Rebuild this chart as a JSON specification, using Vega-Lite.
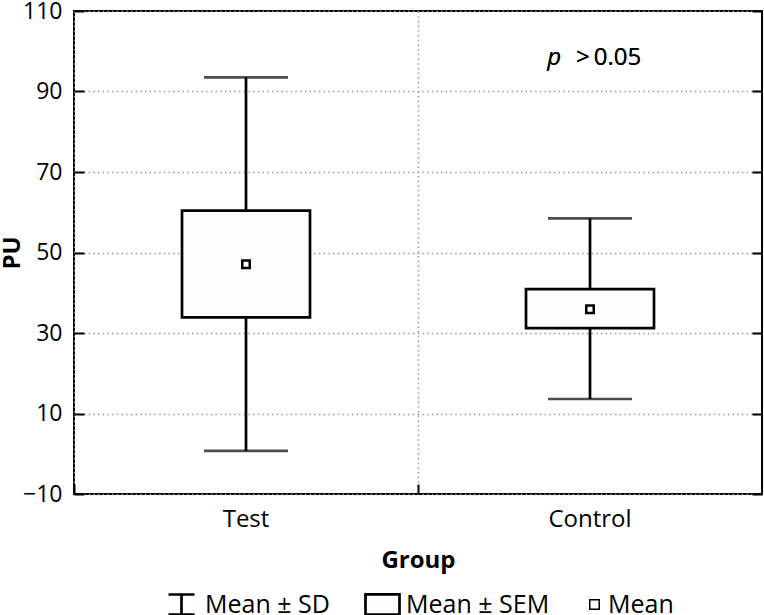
{
  "$schema": "https://vega.github.io/schema/vega-lite/v6.json",
  "width": 688,
  "height": 483,
  "autosize": {"type": "none"},
  "padding": {"left": 74, "top": 11, "right": 2, "bottom": 121},
  "config": {
    "font": "Open Sans",
    "view": {"stroke": "black", "strokeWidth": 2},
    "axis": {
      "domain": false,
      "tickColor": "black",
      "tickWidth": 2,
      "gridColor": "#999999",
      "gridDash": [1.5, 3.2],
      "gridWidth": 1.5,
      "labelFontSize": 23,
      "labelColor": "black",
      "titleFontSize": 24,
      "titleFontWeight": "bold",
      "titleColor": "black"
    },
    "legend": {"labelFontSize": 25, "labelColor": "black", "labelLimit": 300}
  },
  "data": {
    "values": [
      {"group": "Test", "sdLow": 0.7, "sdHigh": 93.5, "semLow": 33.9, "semHigh": 60.4, "mean": 47.1},
      {"group": "Control", "sdLow": 13.6, "sdHigh": 58.5, "semLow": 31.2, "semHigh": 40.9, "mean": 35.9}
    ]
  },
  "encoding": {
    "x": {
      "field": "group",
      "type": "nominal",
      "sort": ["Test", "Control"],
      "scale": {"paddingInner": 0, "paddingOuter": 0},
      "axis": {
        "title": "Group",
        "labelAngle": 0,
        "bandPosition": 0,
        "grid": true,
        "tickSize": -10,
        "labelPadding": 23,
        "titlePadding": 17,
        "labelFontSize": 24
      }
    }
  },
  "layer": [
    {
      "mark": {"type": "rule", "strokeWidth": 2.7},
      "encoding": {
        "y": {
          "field": "sdLow",
          "type": "quantitative",
          "scale": {"domain": [-10, 110], "nice": false, "zero": false},
          "axis": {
            "orient": "left",
            "values": [-10, 10, 30, 50, 70, 90, 110],
            "title": "PU",
            "grid": true,
            "tickSize": -10,
            "labelPadding": 22,
            "titlePadding": -2
          }
        },
        "y2": {"field": "sdHigh"},
        "stroke": {
          "datum": "Mean ± SD",
          "type": "nominal",
          "scale": {"range": ["black"]},
          "legend": {
            "title": null,
            "orient": "none",
            "legendX": 93,
            "legendY": 579,
            "symbolType": "M-1,-0.77H1M0,-0.77V0.77M-1,0.77H1",
            "symbolSize": 676,
            "symbolStrokeWidth": 2.7,
            "symbolFillColor": "transparent",
            "labelOffset": 9
          }
        }
      }
    },
    {
      "mark": {"type": "bar", "width": 128, "stroke": "black", "strokeWidth": 2.7},
      "encoding": {
        "y": {"field": "semLow", "type": "quantitative", "axis": null},
        "y2": {"field": "semHigh"},
        "fill": {
          "datum": "Mean ± SEM",
          "type": "nominal",
          "scale": {"range": ["#fdfdfd"]},
          "legend": {
            "title": null,
            "orient": "none",
            "legendX": 290,
            "legendY": 575,
            "symbolType": "M-1,-0.59H1V0.59H-1Z",
            "symbolSize": 1156,
            "symbolStrokeWidth": 2.7,
            "symbolStrokeColor": "black",
            "labelOffset": 5
          }
        }
      }
    },
    {
      "mark": {"type": "tick", "size": 84, "thickness": 2.7, "color": "black"},
      "encoding": {
        "y": {
          "field": "sdHigh",
          "type": "quantitative",
          "axis": {
            "orient": "right",
            "values": [-10, 10, 30, 50, 70, 90, 110],
            "labels": false,
            "title": null,
            "grid": false,
            "tickSize": -10
          }
        }
      }
    },
    {
      "mark": {"type": "tick", "size": 84, "thickness": 2.7, "color": "black"},
      "encoding": {
        "y": {"field": "sdLow", "type": "quantitative", "axis": null}
      }
    },
    {
      "mark": {"type": "point", "filled": true, "fill": "white", "stroke": "black", "strokeWidth": 2.5, "size": 56, "opacity": 1},
      "encoding": {
        "y": {"field": "mean", "type": "quantitative", "axis": null},
        "shape": {
          "datum": "Mean",
          "type": "nominal",
          "scale": {"range": ["square"]},
          "legend": {
            "title": null,
            "orient": "none",
            "legendX": 508,
            "legendY": 581,
            "symbolSize": 90,
            "labelOffset": 1,
            "encode": {
              "symbols": {
                "update": {
                  "shape": {"value": "square"},
                  "size": {"value": 90},
                  "fill": {"value": "white"},
                  "stroke": {"value": "black"},
                  "strokeWidth": {"value": 2.5},
                  "opacity": {"value": 1}
                }
              }
            }
          }
        }
      }
    },
    {
      "mark": {"type": "text", "text": "p", "fontStyle": "italic", "fontSize": 24, "align": "right", "baseline": "alphabetic", "dx": -29, "color": "black"},
      "encoding": {
        "x": {"datum": "Control"},
        "y": {"datum": 96.6, "type": "quantitative", "axis": null}
      }
    },
    {
      "mark": {"type": "text", "text": ">\u20090.05", "fontSize": 24, "align": "left", "baseline": "alphabetic", "dx": -14, "color": "black"},
      "encoding": {
        "x": {"datum": "Control"},
        "y": {"datum": 96.6, "type": "quantitative", "axis": null}
      }
    }
  ]
}
